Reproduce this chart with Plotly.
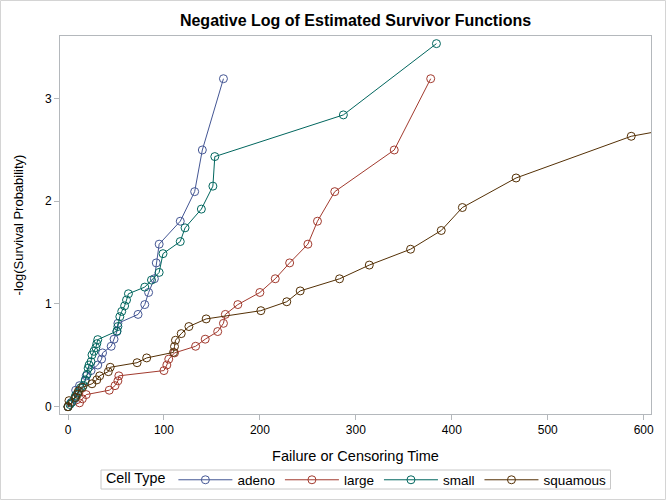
import plotly.graph_objects as go

# Time points (distinct event times) and -log(S(t)) values per cell type
adeno_t = [0, 3, 7, 8, 12, 18, 19, 24, 31, 35, 36, 45, 48, 51, 52, 73, 80, 84, 90, 92, 95, 117, 132, 140, 162]
adeno_v = [0, 0.0377, 0.0770, 0.1603, 0.2048, 0.2513, 0.3001, 0.3514, 0.4055, 0.4626, 0.5232, 0.5878, 0.6568,
           0.7309, 0.8109, 0.8979, 0.9933, 1.1111, 1.2446, 1.3988, 1.5811, 1.8042, 2.0919, 2.4974, 3.1905]

large_t = [0, 12, 15, 19, 43, 49, 52, 53, 100, 103, 105, 111, 133, 143, 156, 162, 164, 177, 200, 216, 231, 250,
           260, 278, 340, 378]
large_v = [0, 0.0377, 0.0770, 0.1178, 0.1603, 0.2048, 0.2513, 0.3001, 0.3514, 0.4055, 0.4626, 0.5232, 0.5878,
           0.6568, 0.7309, 0.8109, 0.8979, 0.9933, 1.1111, 1.2446, 1.3988, 1.5811, 1.8042, 2.0919, 2.4974, 3.1905]

small_t = [0, 2, 4, 7, 8, 10, 13, 16, 18, 20, 21, 22, 24, 25, 27, 29, 30, 31, 51, 52, 54, 56, 59, 61, 63, 80, 87,
           95, 99, 117, 122, 139, 151, 153, 287, 384]
small_v = [0, 0.0211, 0.0426, 0.0870, 0.1100, 0.1335, 0.1823, 0.2076, 0.2603, 0.3159, 0.3747, 0.4055, 0.4372,
           0.5039, 0.5390, 0.5754, 0.6131, 0.6523, 0.7357, 0.7802, 0.8755, 0.9268, 0.9808, 1.0380, 1.0986, 1.1632,
           1.2321, 1.3063, 1.4886, 1.6064, 1.7399, 1.9222, 2.1454, 2.4330, 2.8385, 3.5317]

squamous_t = [0, 1, 8, 10, 11, 15, 25, 30, 33, 42, 44, 72, 82, 110, 111, 112, 118, 126, 144, 201, 228, 242, 283,
              314, 357, 389, 411, 467, 587, 991]
squamous_v = [0, 0.0588, 0.0896, 0.1214, 0.1542, 0.1881, 0.2231, 0.2609, 0.3001, 0.3409, 0.3835, 0.4279, 0.4745,
              0.5285, 0.5857, 0.6463, 0.7108, 0.7798, 0.8539, 0.9340, 1.0210, 1.1264, 1.2441, 1.3777, 1.5318,
              1.7141, 1.9374, 2.2250, 2.6305, 3.3236]

names = ["adeno", "large", "small", "squamous"]
colors = ["#445694", "#A23A2E", "#01665E", "#543005"]
series = [(adeno_t, adeno_v), (large_t, large_v), (small_t, small_v), (squamous_t, squamous_v)]

x_ticks = [0, 100, 200, 300, 400, 500, 600]
y_ticks = [0, 1, 2, 3]

fig = go.Figure()
for name, col, (t, v) in zip(names, colors, series):
    fig.add_trace(go.Scatter(
        x=t, y=v, name=name, mode="lines+markers",
        line=dict(color=col, width=1),
        marker=dict(symbol="circle-open", size=8, color=col, line=dict(width=1)),
        cliponaxis=True,
    ))

W, H = 666, 500
ml, mr, mt, mb = 60, 15, 36, 86
pw, ph = W - ml - mr, H - mt - mb


def px_x(p):
    return (p - ml) / pw


def px_y(p):
    return 1 - (p - mt) / ph


frame = "#b4b8bc"
fig.update_layout(
    width=W, height=H,
    margin=dict(l=ml, r=mr, t=mt, b=mb, autoexpand=False),
    paper_bgcolor="white", plot_bgcolor="white",
    font=dict(family="Liberation Sans, Arial, sans-serif", size=12, color="#000000"),
    title=dict(text="<b>Negative Log of Estimated Survivor Functions</b>",
               x=(ml + pw / 2) / W, xanchor="center", y=1 - 20 / H, yanchor="middle",
               font=dict(size=16, color="#000000")),
    xaxis=dict(range=[-8.34, 607.6], tickvals=x_ticks, ticks="outside", ticklen=5,
               tickcolor=frame, showgrid=False, zeroline=False, showline=True,
               linecolor=frame, linewidth=1, mirror=True, automargin=False,
               title=dict(text="Failure or Censoring Time", font=dict(size=14.5), standoff=14),
               tickfont=dict(size=12, color="#000000")),
    yaxis=dict(range=[-0.071, 3.606], tickvals=y_ticks, ticks="outside", ticklen=5,
               tickcolor=frame, showgrid=False, zeroline=False, showline=True,
               linecolor=frame, linewidth=1, mirror=True, automargin=False,
               title=dict(text="-log(Survival Probability)", font=dict(size=13), standoff=18),
               tickfont=dict(size=12, color="#000000")),
    legend=dict(orientation="h", x=px_x(104), xanchor="left", y=px_y(480), yanchor="middle",
                title=dict(text="Cell Type", font=dict(size=14.3)),
                font=dict(size=13.5), borderwidth=0, bgcolor="rgba(0,0,0,0)",
                itemwidth=54, tracegroupgap=0),
    shapes=[
        dict(type="rect", xref="paper", yref="paper",
             x0=px_x(0.5), x1=px_x(W - 0.5), y0=px_y(H - 0.5), y1=px_y(0.5),
             line=dict(color="#d4d4d4", width=1), fillcolor="rgba(0,0,0,0)", layer="below"),
        dict(type="rect", xref="paper", yref="paper",
             x0=px_x(101), x1=px_x(610.5), y0=px_y(489), y1=px_y(470),
             line=dict(color="#c8c8c8", width=1), fillcolor="rgba(0,0,0,0)", layer="below"),
    ],
)

fig.write_html("out.html", config={"displayModeBar": False},
               post_script="document.body.style.margin='0';")
